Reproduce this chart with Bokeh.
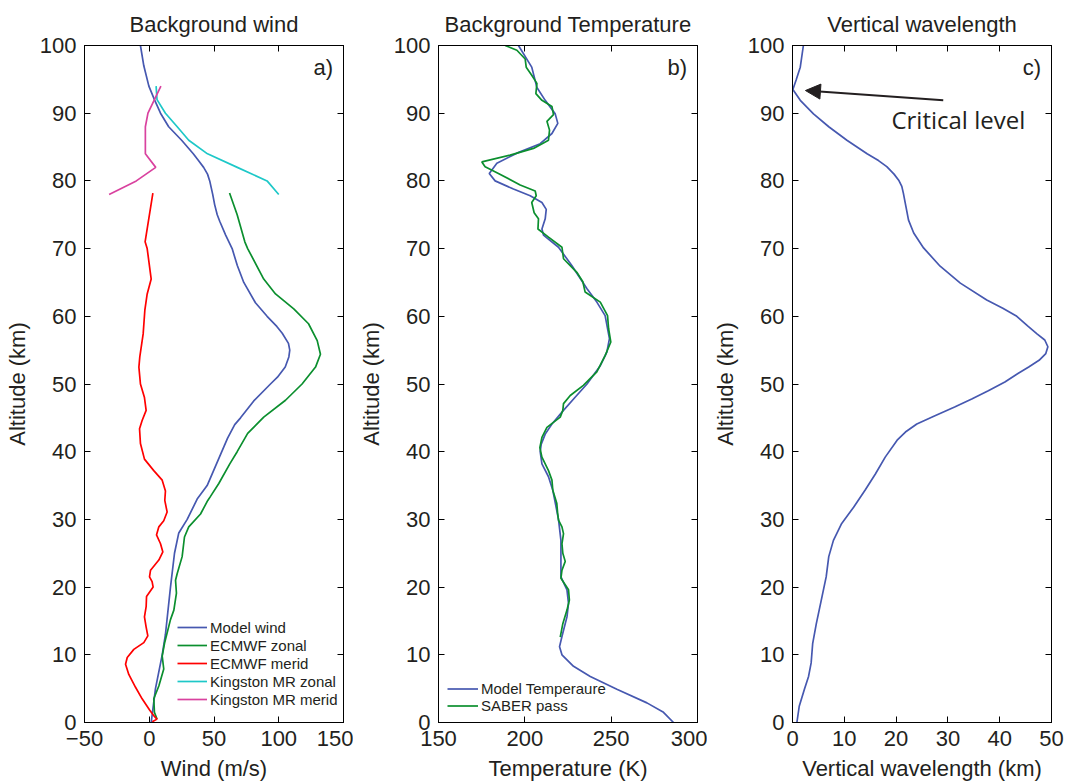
from bokeh.plotting import figure
from bokeh.layouts import row
from bokeh.models import (Range1d, LinearAxis, FixedTicker, Label, Arrow, NormalHead, Legend, LegendItem,
                          CustomLabelingPolicy)
from bokeh.embed import file_html
from bokeh.resources import INLINE

# ---------------- data ----------------
# Panel a: background wind
model_alt = [0, 5, 10, 13, 20, 25, 28, 30, 33, 35, 40, 42, 44, 45, 47.5, 50, 51, 52.5, 54, 55, 56, 57.5, 58.5, 60,
             62, 65, 67.5, 70, 72, 74, 75, 76.5, 78, 80, 81, 82, 83, 84, 86, 88, 90, 92, 94, 97, 100]
model_wind = [1.5, 4.8, 10, 12.5, 16.4, 19.5, 22.8, 29.3, 37, 44.7, 56, 60.5, 66, 70.5, 80.7, 93.6, 99, 105, 107.8,
              108.5, 107.5, 102.7, 98.5, 91, 82, 73, 68, 64, 59, 54.5, 52.5, 50.5, 49, 46.7, 45, 42, 38, 34, 25,
              15, 8.7, 4, -0.3, -4.2, -6.8]

ecz_alt = [0.5, 1.5, 3.5, 5.4, 7.9, 9.8, 11.7, 15.2, 16.6, 19.1, 21, 22, 24.5, 27.4, 28.9, 30.8, 32.8, 33.4,
           35.3, 38.2, 40, 42.7, 45.1, 47.6, 50, 52.5, 54.4, 56.4, 58.9, 61.1, 63.3, 65.5, 70, 71, 75, 78.2]
ecz_wind = [6, 4, 3.5, 7.4, 11.2, 10, 11.8, 16.4, 19, 21, 20.3, 21.6, 25.4, 27.2, 30.5, 39.6, 45.2, 47.3,
            53.7, 62.2, 67.9, 76, 88.4, 105.2, 118, 128.4, 132.2, 129.7, 123, 111.6, 97.5, 88.4, 76, 73.8, 67.9, 62]

ecm_alt = [0.1, 0.5, 0.9, 1.8, 3.5, 5.2, 7.1, 8.6, 9.6, 10.8, 11.8, 12.8, 14.1, 15.6, 17.1, 18.6, 20, 20.8,
           21.5, 22.5, 24, 25.2, 26.4, 27.7, 28.9, 29.8, 31.1, 32.8, 34.2, 35.8, 37.2, 38.9, 41.2, 43.4, 44.6,
           46.1, 48, 50, 52.5, 54, 57.4, 60.9, 63.3, 65.5, 70, 71, 78.2]
ecm_wind = [2.3, 6, 4, 0.4, -5.5, -10.6, -15.8, -18.3, -17, -11.9, -4.2, -1.1, -2.4, -3.7, -2.4, -2.1, 3, 2.2,
            0.2, 1, 7.4, 10.5, 8.7, 5.6, 7.4, 11.2, 13.8, 12, 12.5, 10, 3.5, -3.7, -6.8, -7.5, -5.5,
            -2.4, -3.7, -6.8, -8, -7.3, -4.7, -3.4, -1.6, 1.5, -1.6, -3.2, 2.8]

kmr_alt = [78, 80, 82, 84, 86, 88, 90, 92, 94]
kmr_zonal = [100, 91, 68, 45, 30.5, 21.6, 12.5, 6, 5.3]
kmr_merid = [-31, -10, 5, -3, -3, -3, -1, 4, 9]

# Panel b: background temperature
temp_alt = [0, 1.5, 2.9, 4.9, 6.8, 8.3, 10, 11.2, 12.7, 15.6, 17.6, 19.6, 21.5, 24.5, 26.9, 30, 34.3, 36.3,
            38.2, 40, 41.1, 42.6, 44.1, 46, 48, 50, 52.7, 54.7, 56.7, 60.1, 62.1, 64.1, 67.5, 70.2, 72, 72.9,
            74.4, 75.8, 76.8, 77.8, 78.8, 80, 81.1, 82.6, 84.1, 85.5, 87, 88.5, 89.9, 91.9, 93.8, 96.8, 100]
temp_model = [286.1, 280.3, 270.7, 253.3, 237.9, 228.2, 221.5, 220.1, 221.5, 224.4, 225.3, 224.4, 220.9, 220.9,
              220.9, 219.5, 216.2, 213.7, 209.9, 208.9, 209.5, 211.8, 215.7, 222, 229, 236, 243.7, 247.5, 249,
              246.5, 241.7, 235.9, 227.2, 219.5, 210.8, 209.9, 211.8, 212.4, 209.9, 203.1, 193.4, 182.8, 179.4,
              183.8, 195.4, 208.9, 215.7, 219.1, 217.6, 211.8, 207, 204, 196.3]

saber_alt = [12.6, 14.6, 16.6, 18.1, 19.6, 21.3, 22.5, 23.8, 25, 26.4, 27.9, 28.9, 29.9, 30.9, 32.4, 34.3,
             35.8, 37.2, 39.2, 40.6, 42.1, 43.6, 45.1, 46.1, 47.1, 48.3, 49.8, 51.8, 54.2, 56.2, 58.2, 60.1,
             62.1, 63.6, 65.1, 66.5, 68.5, 70.2, 71.7, 72.9, 74.4, 75.3, 76.8, 77.8, 78.5, 79.4, 81.1, 82.1,
             82.8, 83.8, 84.8, 86, 87.5, 88.8, 89.8, 91, 91.9, 92.9, 94.4, 95.6, 96.8, 98, 99.3, 100]
saber_temp = [220.5, 222, 224.4, 225.8, 225.3, 220.9, 221.5, 223.4, 222, 221.5, 222.4, 221.5, 219.5, 219,
              218.5, 216.2, 215.7, 213.7, 209.9, 208.7, 209.9, 212.8, 220.5, 222, 222.4, 226.3, 233.9, 241.7,
              246.5, 249.8, 248.5, 247.9, 243.7, 234.9, 233.6, 230.1, 222.4, 221.5, 213.7, 207.6, 207.9, 205.4,
              204, 206.6, 206, 197.3, 184.7, 177, 175.1, 191.5, 205, 213.7, 214.3, 212.8, 216.6, 215.7, 209.9,
              206.4, 207, 204, 200.8, 200.2, 195.4, 188.6]

# Panel c: vertical wavelength
vw_alt = [0, 2.4, 4.9, 6.8, 8.8, 11.7, 14.6, 18.6, 21.5, 24.5, 26.9, 29.4, 31.8, 34.3, 36.7, 39.2, 41.7, 42.9,
          44.1, 45.3, 46.6, 47.8, 49, 50.3, 51.6, 52.5, 53.5, 54.5, 55.5, 56.5, 57.4, 58.5, 60, 61.2, 62.4, 64.9,
          67.4, 70.1, 72.3, 74.2, 76.2, 78.2, 79.2, 80.1, 81, 82.1, 83, 84, 86, 88, 89.9, 91.9, 93.5, 94.9, 96.8,
          100]
vw_km = [0.85, 1.3, 2.3, 3.1, 3.6, 3.9, 4.6, 5.7, 6.5, 7, 7.9, 9.5, 11.8, 14, 16, 17.9, 20.2, 21.8,
         24, 27.5, 31.3, 34.6, 37.8, 41.0, 43.6, 45.6, 47.6, 48.9, 49.3, 48.7, 47.2, 45.5, 43.3, 40.6, 37.5, 32.4,
         28.5, 25.3, 23.4, 22.4, 21.9, 21.4, 21.1, 20.5, 19.6, 18.2, 16.6, 14.4, 10.5, 7, 4.05, 1.5, 0.07, 0.7,
         1.5, 2.1]

y_ticks = [0, 10, 20, 30, 40, 50, 60, 70, 80, 90, 100]
wind_ticks = [-50, 0, 50, 100, 150]
temp_ticks = [150, 200, 250, 300]
vw_ticks = [0, 10, 20, 30, 40, 50]

# ---------------- style ----------------
FONT = "Liberation Sans"
TXT = "#231f20"
FS = "22px"
BLUE = "#4658b0"
GREEN = "#0b8f2e"
RED = "#ff0000"
CYAN = "#1ec8c8"
MAGENTA = "#d9429f"
LW = 1.7


def style_axis(ax, ticks, show_labels):
    ax.ticker = FixedTicker(ticks=ticks)
    ax.major_tick_in = 6
    ax.major_tick_out = 0
    ax.minor_tick_in = 0
    ax.minor_tick_out = 0
    ax.axis_line_color = "black"
    ax.major_tick_line_color = "black"
    ax.major_label_text_font = FONT
    ax.major_label_text_color = TXT
    ax.axis_label_text_font = FONT
    ax.axis_label_text_font_size = FS
    ax.axis_label_text_font_style = "normal"
    ax.axis_label_text_color = TXT
    if show_labels:
        ax.major_label_text_font_size = FS
        ax.major_label_standoff = 8
        ax.axis_label_standoff = 7
    else:
        # mirror ticks only: no tick labels are drawn
        ax.major_label_text_font_size = "0px"
        ax.major_label_standoff = 0
        ax.axis_label = None
        ax.major_label_policy = CustomLabelingPolicy(
            code="for (const i of indices) { indices.unset(i) } return indices")


def make_fig(width, left, right, xr, xticks, title, xlabel):
    p = figure(width=width, height=784, x_range=Range1d(*xr), y_range=Range1d(0, 100),
               output_backend="svg", toolbar_location=None,
               min_border_left=left, min_border_right=right, min_border_top=45, min_border_bottom=62,
               x_axis_label=xlabel, y_axis_label="Altitude (km)")
    p.grid.visible = False
    p.outline_line_color = "black"
    p.background_fill_color = "white"
    p.border_fill_color = "white"
    p.title.text = title
    p.title.text_font = FONT
    p.title.text_font_size = FS
    p.title.text_font_style = "normal"
    p.title.text_color = TXT
    p.title.align = "center"
    p.title.standoff = 17
    style_axis(p.xaxis[0], xticks, True)
    style_axis(p.yaxis[0], y_ticks, True)
    top = LinearAxis()
    right_ax = LinearAxis()
    style_axis(top, xticks, False)
    style_axis(right_ax, y_ticks, False)
    p.add_layout(top, "above")
    p.add_layout(right_ax, "right")
    return p


def panel_label(p, xr, text):
    p.add_layout(Label(x=xr[1] - 0.04 * (xr[1] - xr[0]), y=96.7, text=text, text_align="right",
                       text_baseline="middle", text_font=FONT, text_font_size=FS, text_color=TXT))


# ---------------- panel a ----------------
xr_a = (-50, 150)
pa = make_fig(353, 84, 10, xr_a, wind_ticks, "Background wind", "Wind (m/s)")
r1 = pa.line(model_wind, model_alt, line_color=BLUE, line_width=LW)
r2 = pa.line(ecz_wind, ecz_alt, line_color=GREEN, line_width=LW)
r3 = pa.line(ecm_wind, ecm_alt, line_color=RED, line_width=LW)
r4 = pa.line(kmr_zonal, kmr_alt, line_color=CYAN, line_width=LW)
r5 = pa.line(kmr_merid, kmr_alt, line_color=MAGENTA, line_width=LW)
leg_a = Legend(items=[LegendItem(label="Model wind", renderers=[r1]),
                      LegendItem(label="ECMWF zonal", renderers=[r2]),
                      LegendItem(label="ECMWF merid", renderers=[r3]),
                      LegendItem(label="Kingston MR zonal", renderers=[r4]),
                      LegendItem(label="Kingston MR merid", renderers=[r5])],
               location=(93, 14), padding=0, margin=0, spacing=0,
               label_height=18, glyph_height=18, glyph_width=30, label_standoff=3,
               label_text_font=FONT, label_text_font_size="15px", label_text_color=TXT,
               border_line_color=None, background_fill_alpha=0)
pa.add_layout(leg_a, "center")
panel_label(pa, xr_a, "a)")

# ---------------- panel b ----------------
xr_b = (150, 300)
pb = make_fig(354, 85, 10, xr_b, temp_ticks, "Background Temperature", "Temperature (K)")
s1 = pb.line(temp_model, temp_alt, line_color=BLUE, line_width=LW)
s2 = pb.line(saber_temp, saber_alt, line_color=GREEN, line_width=LW)
leg_b = Legend(items=[LegendItem(label="Model Temperaure", renderers=[s1]),
                      LegendItem(label="SABER pass", renderers=[s2])],
               location=(9, 8), padding=0, margin=0, spacing=0,
               label_height=17, glyph_height=17, glyph_width=31, label_standoff=3,
               label_text_font=FONT, label_text_font_size="15px", label_text_color=TXT,
               border_line_color=None, background_fill_alpha=0)
pb.add_layout(leg_b, "center")
panel_label(pb, xr_b, "b)")

# ---------------- panel c ----------------
xr_c = (0, 50)
pc = make_fig(374, 85, 30, xr_c, vw_ticks, "Vertical wavelength", "Vertical wavelength (km)")
pc.line(vw_km, vw_alt, line_color=BLUE, line_width=LW)
panel_label(pc, xr_c, "c)")
pc.add_layout(Arrow(end=NormalHead(size=15, fill_color="#231f20", line_color="#231f20"),
                    x_start=29.1, y_start=91.9, x_end=2.5, y_end=93.35,
                    line_color="#231f20", line_width=2))
pc.add_layout(Label(x=19.1, y=89.1, text="Critical level", text_font="Open Sans",
                    text_font_size="24px", text_color=TXT, text_baseline="middle"))

layout = row(pa, pb, pc)
open("out.html", "w").write(file_html(layout, INLINE))
